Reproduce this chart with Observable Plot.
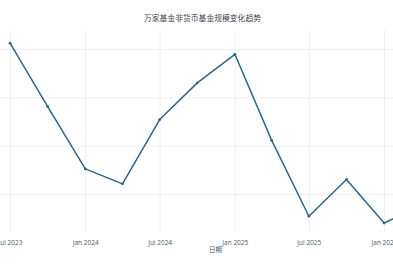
<!DOCTYPE html>
<html>
<head>
<meta charset="utf-8">
<script src="https://cdn.jsdelivr.net/npm/d3@7"></script>
<script src="https://cdn.jsdelivr.net/npm/@observablehq/plot@0.6"></script>
<style>
  html, body { margin: 0; padding: 0; background: #fff; }
  #chart { width: 393px; height: 267px; overflow: hidden; }
</style>
</head>
<body>
<div id="chart"></div>
<script>
const title = "万家基金非货币基金规模变化趋势";
const xLabel = "日期";
const dates = ["2023-06-30","2023-09-30","2023-12-31","2024-03-31","2024-06-30","2024-09-30","2024-12-31","2025-03-31","2025-06-30","2025-09-30","2025-12-31","2026-03-31"];
const values = [1313, 1182, 1053, 1022, 1155, 1231, 1290, 1112, 955, 1031, 941, 976];
const yGrid = [1000, 1100, 1200, 1300];
const xTicks = ["2023-07-01","2024-01-01","2024-07-01","2025-01-01","2025-07-01","2026-01-01"];

const data = dates.map((d, i) => ({date: new Date(d), value: values[i]}));
const tickDates = xTicks.map(d => new Date(d));
const lineColor = "#2c6785";

const chart = Plot.plot({
  width: 393,
  height: 267,
  marginTop: 30,
  marginBottom: 35,
  marginLeft: 0,
  marginRight: 0,
  style: {fontFamily: "'Open Sans', sans-serif", fontSize: "6.5px", color: "#4a5a6a", background: "#fff"},
  x: {type: "utc", domain: [new Date("2023-06-06T12:43:00Z"), new Date("2026-01-23T00:30:00Z")]},
  y: {domain: [921.4, 1339.3], axis: null},
  marks: [
    Plot.gridY(yGrid, {stroke: "#efefef", strokeOpacity: 1, strokeWidth: 1}),
    Plot.gridX(tickDates, {stroke: "#efefef", strokeOpacity: 1, strokeWidth: 1}),
    Plot.axisX(tickDates, {tickSize: 0, tickPadding: 8, tickFormat: d3.utcFormat("%b %Y"), label: null, fill: "#4a5a6a", fontSize: 6.5}),
    Plot.line(data, {x: "date", y: "value", stroke: lineColor, strokeWidth: 1.5, clip: true}),
    Plot.dot(data, {x: "date", y: "value", fill: lineColor, r: 1.4, clip: true}),
    Plot.text([title], {frameAnchor: "top", dx: 5.5, dy: -15, fontSize: 7.8, fill: "#3a4450", fontFamily: "'Noto Sans CJK SC', sans-serif"}),
    Plot.text([xLabel], {frameAnchor: "bottom", dx: 18.5, dy: 19, fontSize: 6.5, fill: "#4a5a6a", fontFamily: "'Noto Sans CJK SC', sans-serif"})
  ]
});
document.getElementById("chart").appendChild(chart);
</script>
</body>
</html>
